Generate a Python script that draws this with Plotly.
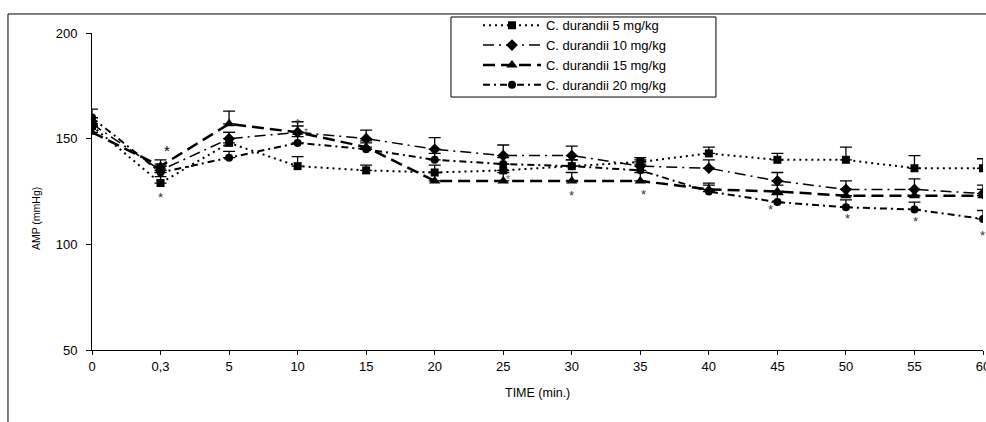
import plotly.graph_objects as go

# ---------------- data ----------------
time_labels = ["0", "0,3", "5", "10", "15", "20", "25", "30", "35", "40", "45", "50", "55", "60"]

series_names = ["C. durandii 5 mg/kg", "C. durandii 10 mg/kg", "C. durandii 15 mg/kg", "C. durandii 20 mg/kg"]

amp_5 = [156, 129, 148, 137, 135, 134, 135, 137, 139, 143, 140, 140, 136, 136]
se_5 = [4, 3, 5, 4.5, 2.5, 3.5, 3, 3, 2, 3, 3, 6, 6, 4.5]

amp_10 = [157, 135, 150, 153, 150, 145, 142, 142, 137, 136, 130, 126, 126, 124]
se_10 = [3, 3, 3, 5, 4, 5.5, 5, 4.5, 3, 4, 4, 4, 5, 4]

amp_15 = [153, 137, 157, 153, 146, 130, 130, 130, 130, 126, 125, 123, 123, 123]
se_15 = [3, 3, 6, 3, 3, 4, 4, 4, 4, 3, 3, 3, 3, 3]

amp_20 = [160, 134, 141, 148, 145, 140, 138, 137, 135, 125, 120, 117.5, 116.5, 112]
se_20 = [4, 3, 3, 3, 3, 3, 3, 3, 3, 3, 3.5, 3.5, 3.5, 4]

# significance marks (category, value)
star_time = ["0,3", "0,3", "10", "10", "25", "30", "35", "45", "50", "55", "60"]
star_value = [145.6, 123.8, 158.4, 154.5, 131.9, 124.3, 124.8, 117.7, 113.6, 112.0, 105.4]

# ---------------- styles ----------------
star_xshift = [6, 0, 0, 8, 5, 0, 3, -7, 2, 1, -1]
star_size = [15, 13, 13, 10, 10, 13, 13, 13, 13, 13, 13]
star_color = ["black", "#333", "#333", "#666", "#666", "#333", "#333", "#333", "#333", "#333", "#333"]

styles = [
    dict(symbol="square", size=8, dash="2px,4px", width=2),
    dict(symbol="diamond", size=9, dash="11px,5px,2px,5px", width=1.5),
    dict(symbol="triangle-up", size=10, dash="12px,6px", width=2.5),
    dict(symbol="circle", size=8, dash="7px,4px,2px,4px", width=2),
]

values = [amp_5, amp_10, amp_15, amp_20]
errors = [se_5, se_10, se_15, se_20]

FONT = "Liberation Sans, Arial, sans-serif"

fig = go.Figure()
for name, vals, errs, st in zip(series_names, values, errors, styles):
    fig.add_trace(go.Scatter(
        x=time_labels, y=vals, name=name, mode="lines+markers",
        line=dict(color="black", width=st["width"], dash=st["dash"]),
        marker=dict(symbol=st["symbol"], size=st["size"], color="black"),
        error_y=dict(type="data", symmetric=False, array=errs,
                     arrayminus=[0] * len(errs), color="black",
                     thickness=1.3, width=6),
    ))

annotations = []
for t, v, dx, sz, col in zip(star_time, star_value, star_xshift, star_size, star_color):
    annotations.append(dict(x=time_labels.index(t), y=v, xref="x", yref="y", text="*",
                            showarrow=False, xanchor="center", yanchor="middle",
                            xshift=dx, yshift=-3, font=dict(size=sz, color=col, family=FONT)))

annotations.append(dict(x=0.5, y=-0.1356, xref="paper", yref="paper", text="TIME (min.)",
                        xanchor="center", yanchor="middle",
                        showarrow=False, font=dict(size=12.5, color="black", family=FONT)))
annotations.append(dict(x=-0.0628, y=0.413, xref="paper", yref="paper", text="AMP (mmHg)",
                        xanchor="center", yanchor="middle",
                        textangle=-90, showarrow=False,
                        font=dict(size=10.5, color="black", family=FONT)))

fig.update_layout(
    width=986, height=422,
    margin=dict(l=92, r=3, t=33, b=72),
    paper_bgcolor="white", plot_bgcolor="white",
    font=dict(family=FONT, color="black", size=13),
    showlegend=True,
    legend=dict(x=0.4332, y=1.072, xanchor="left", yanchor="top",
                bgcolor="rgba(0,0,0,0)", borderwidth=0,
                font=dict(size=13, color="black", family=FONT),
                itemwidth=58, tracegroupgap=0),
    annotations=annotations,
    shapes=[
        dict(type="rect", xref="paper", yref="paper", x0=-0.0943, x1=1.05, y0=-0.4, y1=1.06,
             line=dict(color="black", width=1), layer="below"),
        dict(type="rect", xref="paper", yref="paper", x0=0.4029, x1=0.7003, y0=0.798, y1=1.0505,
             line=dict(color="black", width=1), fillcolor="white", layer="below"),
    ],
)

fig.update_xaxes(
    type="category", categoryorder="array", categoryarray=time_labels,
    range=[0, len(time_labels) - 1],
    showline=True, linecolor="black", linewidth=1,
    ticks="outside", ticklen=4, tickcolor="black", tickwidth=1,
    showgrid=False, zeroline=False, automargin=False,
    tickfont=dict(size=13, color="black", family=FONT),
)
fig.update_yaxes(
    range=[50, 200], tickvals=[50, 100, 150, 200],
    showline=True, linecolor="black", linewidth=1,
    ticks="outside", ticklen=5, tickcolor="black", tickwidth=1,
    showgrid=False, zeroline=False, automargin=False,
    ticklabelstandoff=6,
    tickfont=dict(size=13, color="black", family=FONT),
)

fig.write_html("out.html", config={"displayModeBar": False},
               post_script="document.body.style.margin='0';document.body.style.padding='0';")
